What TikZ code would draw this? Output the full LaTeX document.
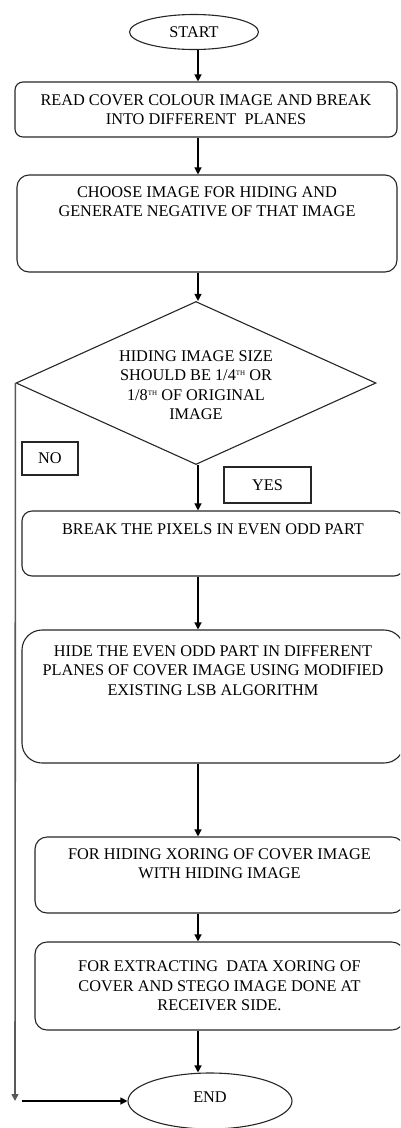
\documentclass[tikz,border=0pt]{standalone}
\usepackage{fontspec}
\setmainfont{Liberation Serif}
\usetikzlibrary{shapes.geometric,arrows.meta,positioning}
\newcommand\ordth{\raisebox{5pt}{\fontsize{7}{7}\selectfont TH}}
\begin{document}
\begin{tikzpicture}[x=1pt,y=-1pt,
  box/.style={draw=black!85,line width=1.1pt,rounded corners=10pt,minimum width=#1},
  term/.style={draw=black!85,line width=1.1pt,ellipse},
  tag/.style={draw=black!85,line width=1.1pt},
  txt/.style={align=center,inner sep=0pt},
  arr/.style={line width=1.2pt,-{Triangle[length=7pt,width=7pt]}},
  font=\fontsize{16.3}{19.5}\selectfont]
\useasboundingbox (0,0) rectangle (400,1128);
\clip (0,0) rectangle (400,1128);
\coordinate (col) at (198,0);
\node[term,minimum width=129pt,minimum height=35pt] (start) at (194,32) {START};
\node[box=382pt,minimum height=55pt,rounded corners=8pt,txt] (read) at (206,109.5) {READ COVER COLOUR IMAGE AND BREAK\\INTO DIFFERENT\ \ PLANES};
\node[box=380pt,minimum height=97pt,rounded corners=12pt] (choose) at (207,223.5) {};
\node[txt,below=12pt of choose.north] (choosetxt) {CHOOSE IMAGE FOR HIDING AND\\GENERATE NEGATIVE OF THAT IMAGE};
\node[draw=black!85,line width=1.1pt,diamond,minimum width=360pt,minimum height=163pt,inner sep=0pt] (size) at (196,383) {};
\node[txt] (sizetxt) at (196,385) {HIDING IMAGE SIZE\\SHOULD BE 1/4\ordth{} OR\\1/8\ordth{} OF ORIGINAL\\IMAGE};
\node[tag,minimum width=56pt,minimum height=33pt] (no) at (50,458.5) {NO};
\node[tag,minimum width=87pt,minimum height=36pt] (yes) at (267.5,485) {YES};
\node[box=382pt,minimum height=65pt] (pixels) at (213,543.5) {};
\node[txt,below=13pt of pixels.north] (pixelstxt) {BREAK\ THE PIXELS IN EVEN ODD PART};
\node[box=382pt,minimum height=133pt,rounded corners=20pt] (hide) at (213,696.5) {};
\node[txt,below=16pt of hide.north] (hidetxt) {HIDE THE EVEN ODD PART IN DIFFERENT\\PLANES\ OF COVER IMAGE USING\ MODIFIED\\EXISTING LSB ALGORITHM};
\node[box=369pt,minimum height=76pt,rounded corners=12pt] (xor) at (219.5,875) {};
\node[txt,below=12pt of xor.north] (xortxt) {FOR HIDING XORING\ OF COVER\ IMAGE\\WITH HIDING IMAGE};
\node[box=369pt,minimum height=88pt,rounded corners=12pt,txt] (extract) at (219.5,986) {FOR EXTRACTING\ \ DATA XORING OF\\COVER AND\ STEGO IMAGE\ DONE AT\\RECEIVER\ SIDE.};
\node[term,minimum width=164pt,minimum height=56pt] (end) at (210,1101) {};
\node[txt] (endtxt) at (210,1097) {END};
\coordinate (noend) at (15,1101);
\coordinate (nobend) at (22,1101);
\draw[arr] (start.south -| col) -- (read.north -| col);
\draw[arr] (read.south -| col) -- (choose.north -| col);
\draw[arr] (choose.south -| col) -- (size.north -| col);
\draw[arr] (size.south -| col) -- (pixels.north -| col);
\draw[arr] (pixels.south -| col) -- (hide.north -| col);
\draw[arr] (hide.south -| col) -- (xor.north -| col);
\draw[arr] (xor.south -| col) -- (extract.north -| col);
\draw[arr] (extract.south -| col) -- (end.north -| col);
\draw[arr,draw=black!65,line width=1.6pt] (size.west) -- (noend);
\draw[arr] (nobend) -- (end.west);
\end{tikzpicture}
\end{document}
